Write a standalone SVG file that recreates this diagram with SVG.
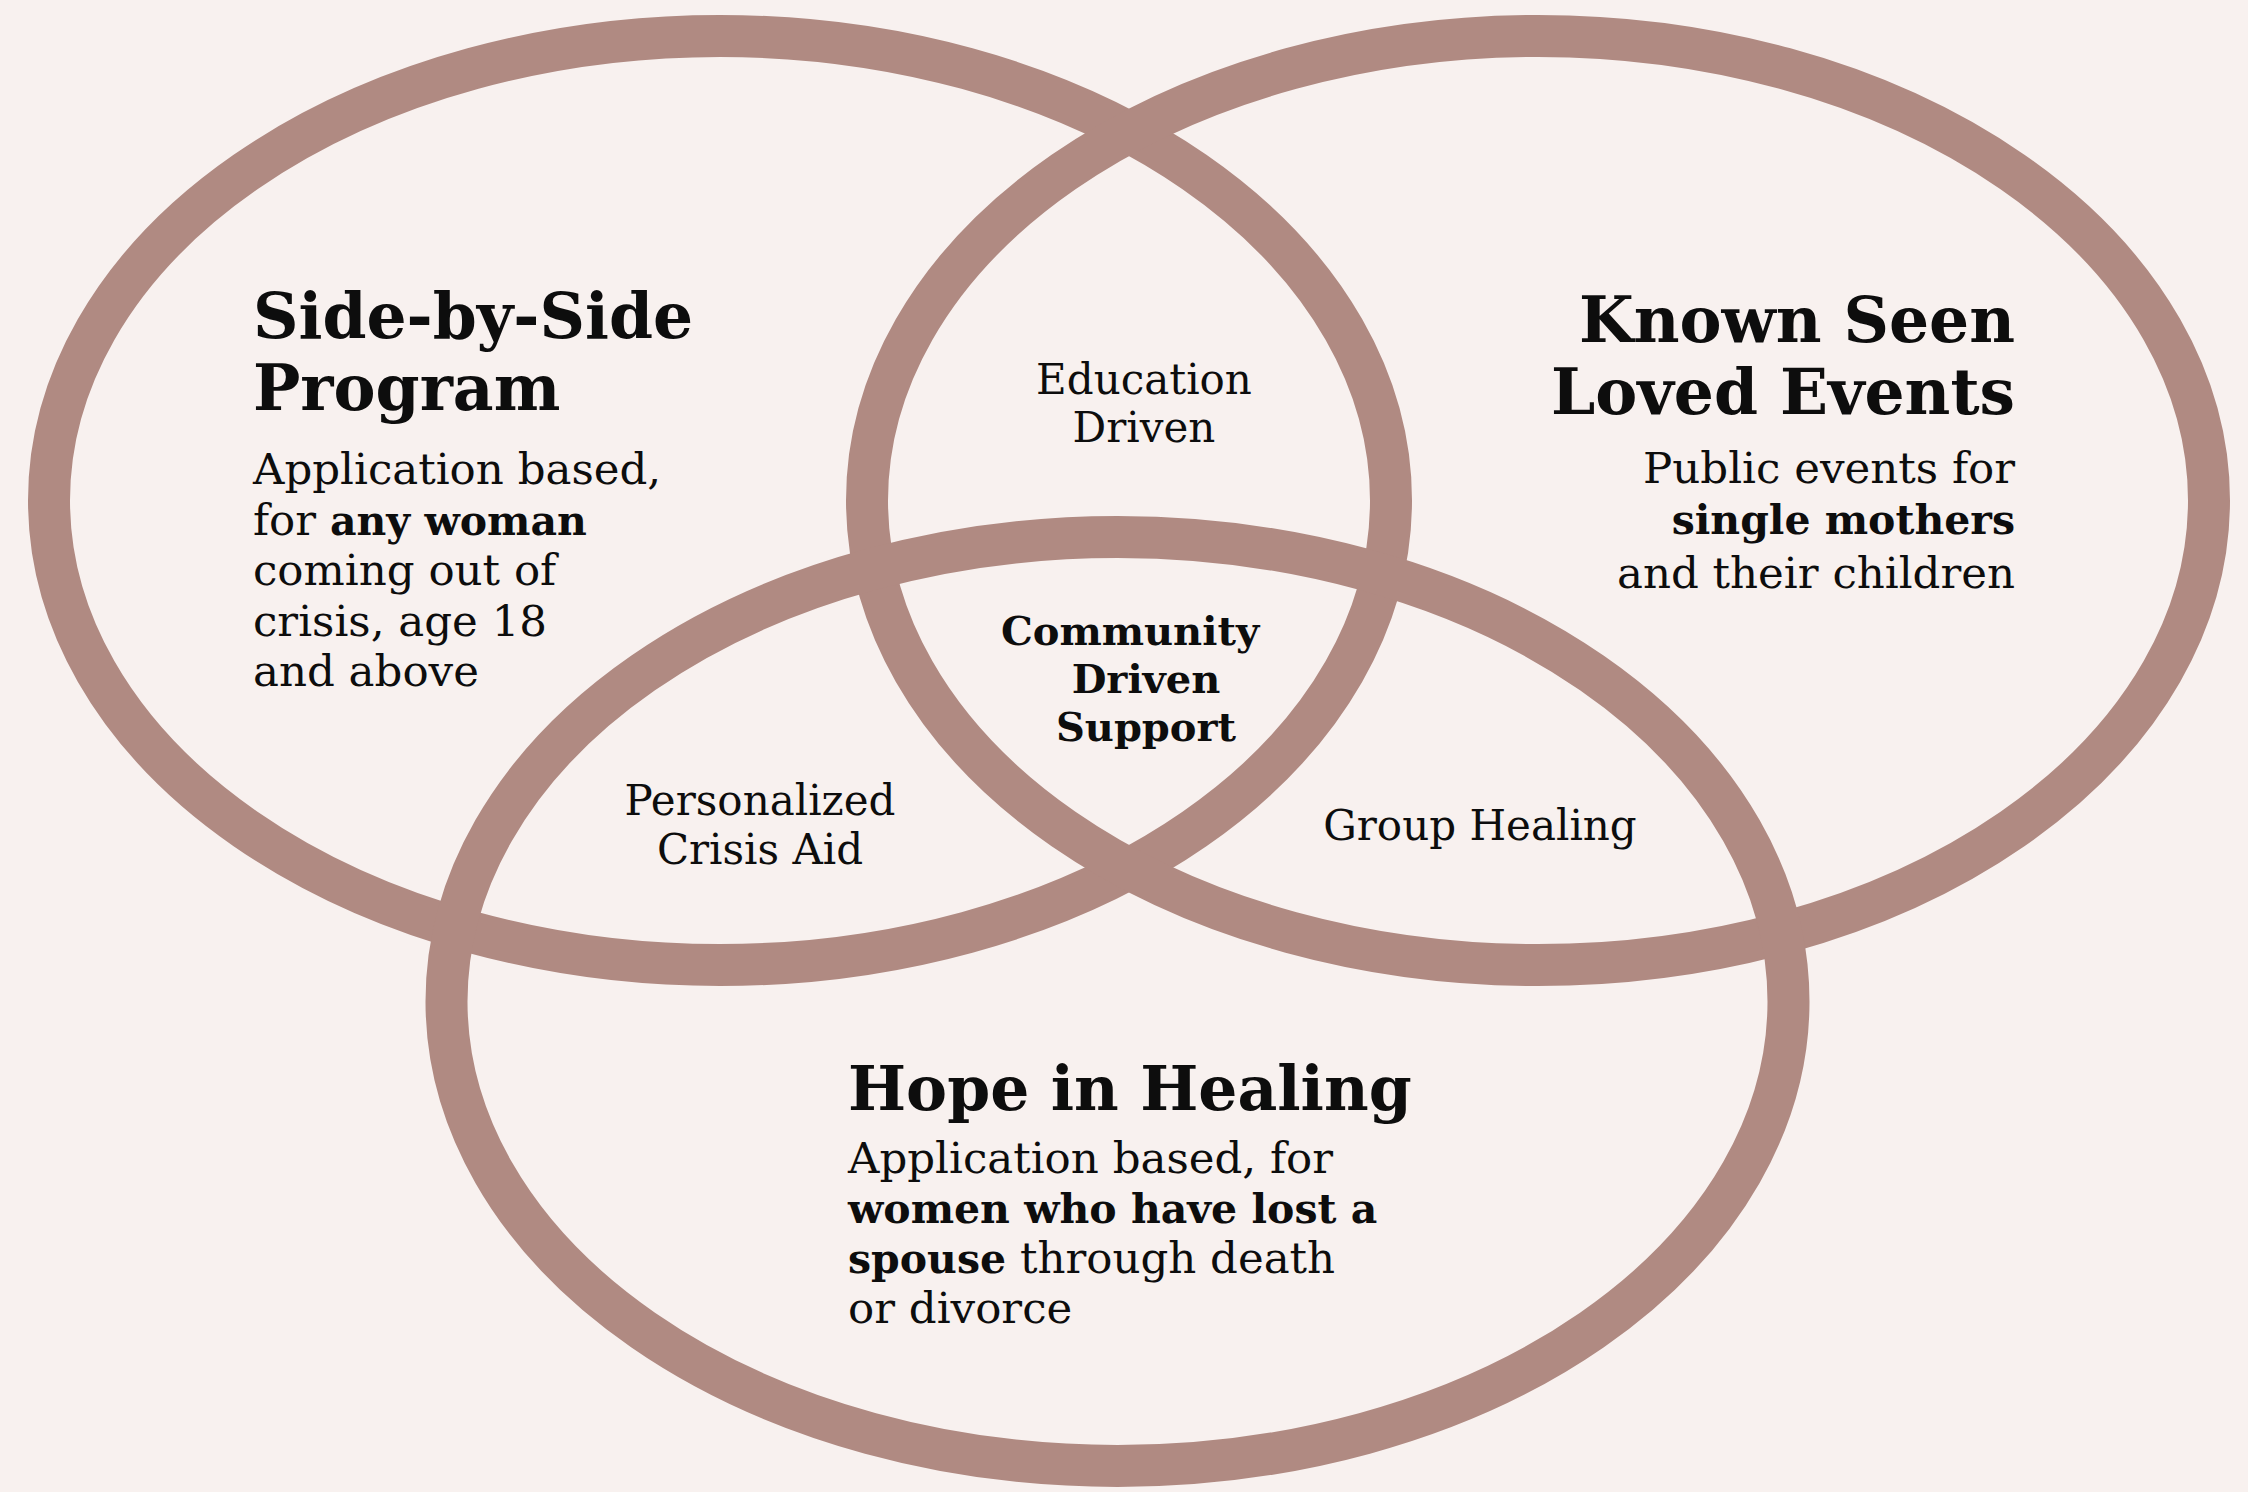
<svg xmlns="http://www.w3.org/2000/svg" width="2248" height="1492" viewBox="0 0 2248 1492">
  <style>
    .ring { fill: none; stroke: #b08a82; stroke-width: 42; }
    text { font-family: "DejaVu Serif", "Liberation Serif", serif; fill: #0d0d0d; }
    .h { font-size: 63px; font-weight: bold; }
    .h2 { font-size: 61.5px; font-weight: bold; }
    .b { font-size: 43.5px; }
    .s { font-size: 42px; }
    .sb { font-size: 40px; font-weight: bold; }
    .bold { font-weight: bold; font-size: 41px; }
    .mid { text-anchor: middle; }
    .end { text-anchor: end; }
  </style>
  <rect x="0" y="0" width="2248" height="1492" fill="#f8f1ef"/>
  <g id="rings">
    <ellipse id="ring-side-by-side" class="ring" cx="720" cy="500.5" rx="671" ry="464.5"/>
    <ellipse id="ring-known-seen" class="ring" cx="1538" cy="500.5" rx="671" ry="464.5"/>
    <ellipse id="ring-hope" class="ring" cx="1117.5" cy="1001.5" rx="671" ry="464.5"/>
  </g>
  <g id="connectors"></g>
  <g id="node-side-by-side">
    <text class="h" x="253" y="338">Side-by-Side</text>
    <text class="h" x="253" y="410">Program</text>
    <text class="b" x="253" y="484">Application based,</text>
    <text class="b" x="253" y="534.5">for <tspan class="bold">any woman</tspan></text>
    <text class="b" x="253" y="585">coming out of</text>
    <text class="b" x="253" y="635.5">crisis, age 18</text>
    <text class="b" x="253" y="686">and above</text>
  </g>
  <g id="node-known-seen">
    <text class="h end" x="2015" y="342">Known Seen</text>
    <text class="h end" x="2015" y="414">Loved Events</text>
    <text class="b end" x="2015" y="483">Public events for</text>
    <text class="b end bold" x="2015" y="534">single mothers</text>
    <text class="b end" x="2015" y="588">and their children</text>
  </g>
  <g id="node-hope">
    <text class="h2" x="848" y="1110">Hope in Healing</text>
    <text class="b" x="848" y="1173">Application based, for</text>
    <text class="b bold" x="848" y="1223">women who have lost a</text>
    <text class="b" x="848" y="1273"><tspan class="bold">spouse</tspan> through death</text>
    <text class="b" x="848" y="1323">or divorce</text>
  </g>
  <g id="overlap-education">
    <text class="s mid" x="1144" y="394">Education</text>
    <text class="s mid" x="1144" y="442">Driven</text>
  </g>
  <g id="overlap-community">
    <text class="sb mid" x="1130" y="645">Community</text>
    <text class="sb mid" x="1146" y="693">Driven</text>
    <text class="sb mid" x="1146" y="741">Support</text>
  </g>
  <g id="overlap-personalized">
    <text class="s mid" x="760" y="815">Personalized</text>
    <text class="s mid" x="760" y="864">Crisis Aid</text>
  </g>
  <g id="overlap-group">
    <text class="s mid" x="1480" y="840">Group Healing</text>
  </g>
</svg>
